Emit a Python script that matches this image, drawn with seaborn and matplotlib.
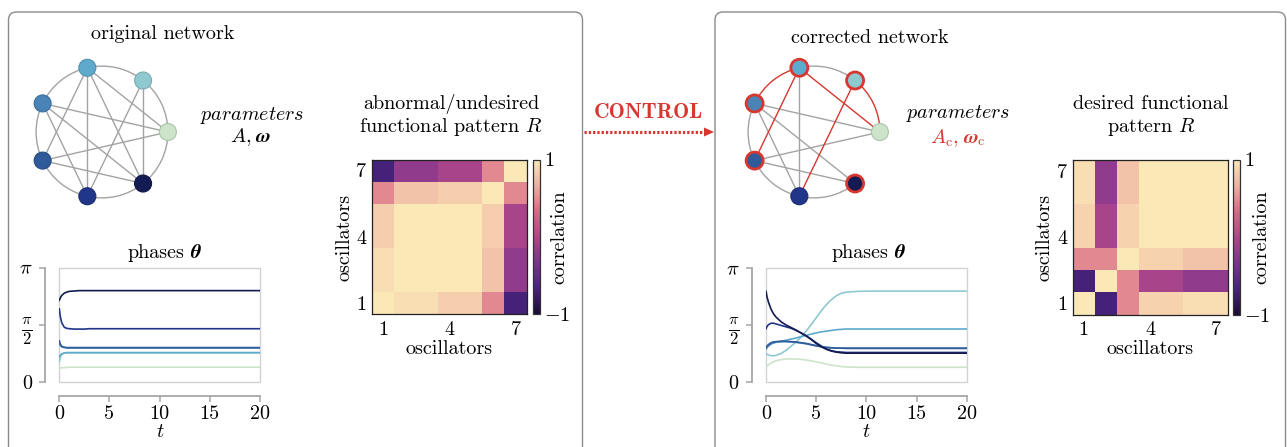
import numpy as np
import pandas as pd
import matplotlib
matplotlib.use("Agg")
import matplotlib.pyplot as plt
import seaborn as sns
from matplotlib.colors import LinearSegmentedColormap, to_rgb
from matplotlib.patches import FancyBboxPatch, Arc, Polygon, Rectangle
from matplotlib.lines import Line2D
from matplotlib.transforms import IdentityTransform

# ---------------------------------------------------------------- data
osc_names = ["osc1", "osc2", "osc3", "osc4", "osc5", "osc6", "osc7"]
osc_colors = ["#cde4cb", "#8fc9d0", "#5eaacc", "#4a83b6", "#2f5b9b", "#213589", "#141b52"]
osc_ticks = ["1", "4", "7"]

# network edges (node indices around the ring); ring neighbours are drawn as arcs
edges_original = [(0, 1), (1, 2), (2, 3), (3, 4), (4, 5), (5, 6), (6, 0),
                  (2, 5), (2, 6), (2, 0), (2, 4), (3, 0), (3, 6), (3, 5),
                  (4, 0), (4, 6), (1, 6), (1, 5)]
edges_corrected_kept = [(1, 2), (3, 4), (4, 5), (5, 6), (2, 5), (3, 0),
                        (3, 5), (3, 6), (4, 0), (4, 6)]
edges_corrected_changed = [(0, 1), (2, 3), (2, 0), (2, 4), (1, 5)]
nodes_corrected_changed = [1, 2, 3, 4, 6]

# correlation patterns (row i = oscillator i+1)
R_original = [
    [1.00, 0.93, 0.93, 0.85, 0.85, 0.47, -0.70],
    [0.93, 1.00, 1.00, 1.00, 1.00, 0.78, -0.20],
    [0.93, 1.00, 1.00, 1.00, 1.00, 0.78, -0.20],
    [0.85, 1.00, 1.00, 1.00, 1.00, 0.85, -0.05],
    [0.85, 1.00, 1.00, 1.00, 1.00, 0.85, -0.05],
    [0.47, 0.78, 0.78, 0.85, 0.85, 1.00, 0.47],
    [-0.70, -0.20, -0.20, -0.05, -0.05, 0.47, 1.00],
]
R_desired = [
    [1.00, -0.70, 0.47, 0.86, 0.86, 0.93, 0.93],
    [-0.70, 1.00, 0.47, -0.05, -0.05, -0.20, -0.20],
    [0.47, 0.47, 1.00, 0.86, 0.86, 0.78, 0.78],
    [0.86, -0.05, 0.86, 1.00, 1.00, 1.00, 1.00],
    [0.86, -0.05, 0.86, 1.00, 1.00, 1.00, 1.00],
    [0.93, -0.20, 0.78, 1.00, 1.00, 1.00, 1.00],
    [0.93, -0.20, 0.78, 1.00, 1.00, 1.00, 1.00],
]

# phase trajectories
t_grid = [0, 0.1, 0.25, 0.5, 0.75, 1, 1.5, 2, 2.5, 3, 3.5, 4, 4.5, 5, 5.5,
          6, 6.5, 7, 7.5, 8, 9, 10, 12, 15, 20]
theta_original = [
    [0.38, 0.38, 0.38, 0.39, 0.39, 0.40, 0.40, 0.40, 0.40, 0.40, 0.40, 0.40, 0.40, 0.40, 0.40, 0.40, 0.40, 0.40, 0.40, 0.40, 0.40, 0.40, 0.40, 0.40, 0.40],
    [0.55, 0.66, 0.76, 0.79, 0.80, 0.80, 0.80, 0.80, 0.80, 0.80, 0.80, 0.80, 0.80, 0.80, 0.80, 0.80, 0.80, 0.80, 0.80, 0.80, 0.80, 0.80, 0.80, 0.80, 0.80],
    [0.68, 0.73, 0.77, 0.79, 0.80, 0.80, 0.80, 0.80, 0.80, 0.80, 0.80, 0.80, 0.80, 0.80, 0.80, 0.80, 0.80, 0.80, 0.80, 0.80, 0.80, 0.80, 0.80, 0.80, 0.80],
    [1.05, 1.00, 0.96, 0.94, 0.93, 0.93, 0.93, 0.93, 0.93, 0.93, 0.93, 0.93, 0.93, 0.93, 0.93, 0.93, 0.93, 0.93, 0.93, 0.93, 0.93, 0.93, 0.93, 0.93, 0.93],
    [1.13, 1.04, 0.97, 0.95, 0.94, 0.94, 0.94, 0.94, 0.94, 0.94, 0.94, 0.94, 0.94, 0.94, 0.94, 0.94, 0.94, 0.94, 0.94, 0.94, 0.94, 0.94, 0.94, 0.94, 0.94],
    [2.01, 1.80, 1.62, 1.50, 1.47, 1.46, 1.45, 1.45, 1.45, 1.46, 1.46, 1.46, 1.46, 1.46, 1.46, 1.46, 1.46, 1.46, 1.46, 1.46, 1.46, 1.46, 1.46, 1.46, 1.46],
    [2.24, 2.31, 2.38, 2.44, 2.47, 2.49, 2.50, 2.51, 2.51, 2.51, 2.51, 2.51, 2.51, 2.51, 2.51, 2.51, 2.51, 2.51, 2.51, 2.51, 2.51, 2.51, 2.51, 2.51, 2.51],
]
theta_corrected = [
    [0.42, 0.44, 0.47, 0.52, 0.55, 0.58, 0.61, 0.63, 0.63, 0.63, 0.62, 0.60, 0.58, 0.55, 0.52, 0.49, 0.46, 0.44, 0.42, 0.41, 0.40, 0.40, 0.40, 0.40, 0.40],
    [0.79, 0.76, 0.74, 0.72, 0.72, 0.73, 0.78, 0.87, 0.98, 1.10, 1.24, 1.40, 1.58, 1.77, 1.96, 2.13, 2.27, 2.38, 2.45, 2.48, 2.50, 2.51, 2.51, 2.51, 2.51],
    [0.92, 0.95, 0.99, 1.04, 1.07, 1.09, 1.12, 1.15, 1.18, 1.21, 1.25, 1.28, 1.32, 1.35, 1.38, 1.40, 1.42, 1.44, 1.45, 1.46, 1.46, 1.46, 1.46, 1.46, 1.46],
    [0.90, 0.95, 1.00, 1.06, 1.09, 1.10, 1.11, 1.11, 1.10, 1.09, 1.07, 1.05, 1.02, 0.99, 0.97, 0.95, 0.94, 0.93, 0.93, 0.92, 0.92, 0.92, 0.92, 0.92, 0.92],
    [0.95, 0.99, 1.03, 1.08, 1.10, 1.11, 1.12, 1.12, 1.11, 1.10, 1.08, 1.06, 1.03, 1.00, 0.97, 0.95, 0.94, 0.93, 0.93, 0.93, 0.93, 0.93, 0.93, 0.93, 0.93],
    [1.46, 1.53, 1.58, 1.62, 1.62, 1.60, 1.56, 1.52, 1.48, 1.42, 1.35, 1.27, 1.18, 1.08, 0.99, 0.91, 0.86, 0.83, 0.82, 0.81, 0.81, 0.81, 0.81, 0.81, 0.81],
    [2.51, 2.35, 2.20, 2.01, 1.88, 1.79, 1.66, 1.57, 1.50, 1.43, 1.35, 1.27, 1.17, 1.06, 0.97, 0.90, 0.85, 0.82, 0.80, 0.79, 0.79, 0.79, 0.79, 0.79, 0.79],
]

# ---------------------------------------------------------------- style
W, H = 1287, 447
FS = 14.5
RED = "#d7372f"
GREY = "#a3a3a3"
SPINE = "#a6a6a6"
BI = dict(family="STIXGeneral", style="italic", weight="bold")

sns.set_theme(style="white")
plt.rcParams.update({
    "font.family": ["cmr10", "DejaVu Serif"],
    "mathtext.fontset": "cm",
    "axes.formatter.use_mathtext": True,
    "font.size": FS,
    "text.color": "black",
    "axes.labelcolor": "black",
    "xtick.color": "black",
    "ytick.color": "black",
})

corr_cmap = LinearSegmentedColormap.from_list(
    "corr", ["#1b0c35", "#4a2382", "#7d338f", "#ae4789", "#d86a85", "#eeb0a0", "#fbe8b7"])

fig = plt.figure(figsize=(W / 100, H / 100), dpi=100)


def px_axes(left, top, width, height):
    return fig.add_axes([left / W, 1 - (top + height) / H, width / W, height / H])


def px_text(x, y, s, **kw):
    kw.setdefault("fontsize", FS)
    kw.setdefault("ha", "center")
    kw.setdefault("va", "baseline")
    kw.setdefault("color", "black")
    return fig.text(x / W, 1 - y / H, s, **kw)


def text_row(x, y, pieces, color="black"):
    """Lay out (text, fontkw, gap_px) pieces on one baseline, centred on x."""
    renderer = fig.canvas.get_renderer()
    arts, widths, gaps = [], [], []
    for s, kw, gap in pieces:
        a = fig.text(0, 0, s, fontsize=FS, color=color, ha="left", va="baseline", **kw)
        arts.append(a)
        widths.append(a.get_window_extent(renderer).width)
        gaps.append(gap)
    total = sum(widths) + sum(gaps[:-1])
    x0 = x - total / 2
    for a, w, g in zip(arts, widths, gaps):
        a.set_position((x0 / W, 1 - y / H))
        x0 += w + g


# ---------------------------------------------------------------- panels
for x0, x1 in ((8.5, 582.5), (715.0, 1285.5)):
    fig.add_artist(FancyBboxPatch((x0, -30), x1 - x0, 447 - 12 + 30,
                                  boxstyle="round,pad=0,rounding_size=8",
                                  transform=IdentityTransform(), fill=False,
                                  ec="#8a8a8a", lw=1.0))


def draw_network(ax, kept, changed, ringed):
    ang = 2 * np.pi * np.arange(7) / 7
    pos = np.c_[np.cos(ang), np.sin(ang)]
    for edges, col, z in ((kept, GREY, 1), (changed, RED, 2)):
        for i, j in edges:
            step = (j - i) % 7
            if step in (1, 6):
                a = i if step == 1 else j
                th1 = np.degrees(ang[a])
                ax.add_patch(Arc((0, 0), 2, 2, theta1=th1, theta2=th1 + 360 / 7,
                                 color=col, lw=1.0, zorder=z))
            else:
                ax.plot(pos[[i, j], 0], pos[[i, j], 1], color=col, lw=1.0, zorder=z)
    edge_cols = [RED if k in ringed else tuple(0.85 * c for c in to_rgb(osc_colors[k]))
                 for k in range(7)]
    lws = [2.0 if k in ringed else 0.8 for k in range(7)]
    ax.scatter(pos[:, 0], pos[:, 1], s=150, c=osc_colors, edgecolors=edge_cols,
               linewidths=lws, zorder=3)
    ax.set_xlim(-1.29, 1.29)
    ax.set_ylim(-1.29, 1.29)
    ax.set_aspect("equal")
    ax.set_axis_off()


def draw_pattern(ax, cax, R):
    sns.heatmap(np.array(R), ax=ax, cbar_ax=cax, cmap=corr_cmap, vmin=-1, vmax=1,
                xticklabels=False, yticklabels=False)
    ax.invert_yaxis()
    ticks = [int(v) - 0.5 for v in osc_ticks]
    ax.set_xticks(ticks, osc_ticks)
    ax.set_yticks(ticks, osc_ticks, rotation=0)
    ax.tick_params(length=0, labelsize=FS, labelcolor="black")
    ax.tick_params(axis="x", pad=5)
    ax.tick_params(axis="y", pad=4)
    for sp in ax.spines.values():
        sp.set_visible(True)
        sp.set_linewidth(0.9)
        sp.set_color("#222222")
    cbar = ax.collections[0].colorbar
    cbar.outline.set_linewidth(0.9)
    cbar.outline.set_edgecolor("#333333")
    cbar.set_ticks([-1, 1])
    cbar.set_ticklabels(["$-1$", "$1$"])
    cax.tick_params(length=0, pad=3, labelsize=FS, labelcolor="black")


def draw_phases(ax, theta):
    long = pd.DataFrame({
        "t": np.tile(t_grid, len(osc_names)),
        "theta": np.concatenate(theta),
        "osc": np.repeat(osc_names, len(t_grid)),
    })
    sns.lineplot(data=long, x="t", y="theta", hue="osc",
                 palette=dict(zip(osc_names, osc_colors)), ax=ax, legend=False,
                 linewidth=1.2, estimator=None, sort=False)
    ax.set_xlim(0, 20)
    ax.set_ylim(0, np.pi)
    ax.set_xticks([0, 5, 10, 15, 20], ["0", "5", "10", "15", "20"])
    ax.set_yticks([0, np.pi / 2, np.pi], ["$0$", r"$\frac{\pi}{2}$", r"$\pi$"])
    ax.set_xlabel("")
    ax.set_ylabel("")
    for side in ("top", "right"):
        ax.spines[side].set_visible(False)
    for side in ("left", "bottom"):
        ax.spines[side].set_position(("outward", 10))
        ax.spines[side].set_color(SPINE)
        ax.spines[side].set_linewidth(1.3)
    ax.tick_params(left=True, bottom=True, length=4, width=1.1, color=SPINE,
                   labelsize=FS, labelcolor="black")
    ax.get_yticklabels()[1].set_fontsize(17)
    ax.tick_params(axis="x", pad=2.5)
    ax.tick_params(axis="y", pad=5)
    ax.add_patch(Rectangle((0, 0), 1, 1, transform=ax.transAxes, fill=False,
                           ec="#d2d2d2", lw=1.0, clip_on=False, zorder=0.5))


# original network (left)
draw_network(px_axes(17, 47, 170, 170), edges_original, [], [])
draw_pattern(px_axes(372, 159.5, 154.5, 154.5), px_axes(533.3, 159.5, 6.5, 154.5), R_original)
draw_phases(px_axes(59.3, 267.7, 200.7, 114), theta_original)

# corrected network (right)
draw_network(px_axes(729, 47, 170, 170), edges_corrected_kept, edges_corrected_changed,
             nodes_corrected_changed)
draw_pattern(px_axes(1072.5, 159.5, 155, 155), px_axes(1233.3, 159.5, 6.3, 155), R_desired)
draw_phases(px_axes(766, 268.3, 200.7, 113.4), theta_corrected)

# ---------------------------------------------------------------- text
px_text(163, 39, "original network")
px_text(870, 43, "corrected network")

px_text(252, 120, r"$\mathit{parameters}$")
text_row(250, 142, [("$A,$", {}, 4), ("ω", BI, 0)])
px_text(958, 118, r"$\mathit{parameters}$")
text_row(958, 143, [(r"$A_{\rm c},$", {}, 4), ("ω", BI, 0), (r"$_{\rm c}$", {}, 0)], color=RED)

px_text(451, 109, "abnormal/undesired")
px_text(451, 132, "functional pattern $R$")
px_text(1151, 109, "desired functional")
px_text(1151, 132, "pattern $R$")

text_row(164, 258, [("phases", {}, 6), ("θ", BI, 0)])
text_row(868, 258, [("phases", {}, 6), ("θ", BI, 0)])

for cx, lx, cbx in ((449, 345, 559.5), (1150, 1045, 1261)):
    px_text(cx, 354, "oscillators")
    px_text(lx, 237, "oscillators", rotation=90, va="center")
    px_text(cbx, 237, "correlation", rotation=90, va="center")

px_text(160, 437, "$t$")
px_text(866, 437, "$t$")

# control arrow
px_text(648, 118, "CONTROL", fontfamily="cmb10", fontsize=15.5, color=RED)
fig.add_artist(Line2D([584, 705], [H - 132, H - 132], transform=IdentityTransform(),
                      color=RED, lw=2.2, linestyle=(0, (0.75, 0.65))))
fig.add_artist(Polygon([[704, H - 127.5], [714, H - 132], [704, H - 136.5]], closed=True,
                       transform=IdentityTransform(), color=RED, lw=0))

fig.savefig("out.png", dpi=100)
